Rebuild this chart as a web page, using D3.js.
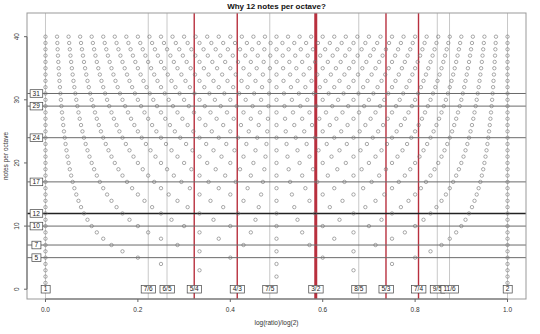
<!DOCTYPE html>
<html>
<head>
<meta charset="utf-8">
<script src="https://cdn.jsdelivr.net/npm/d3@7"></script>
<style>
  body { margin: 0; background: #fff; }
  text { font-family: "Liberation Sans", Arial, sans-serif; }
</style>
</head>
<body>
<div id="chart"></div>
<script>
const notesPerOctave = [1,2,3,4,5,6,7,8,9,10,11,12,13,14,15,16,17,18,19,20,
  21,22,23,24,25,26,27,28,29,30,31,32,33,34,35,36,37,38,39,40];
const intervalLabels = ["1","7/6","6/5","5/4","4/3","7/5","3/2","8/5","5/3","7/4","9/5","11/6","2"];
const intervalRatios = [1, 7/6, 6/5, 5/4, 4/3, 7/5, 3/2, 8/5, 5/3, 7/4, 9/5, 11/6, 2];
const redIntervals = ["5/4","4/3","3/2","5/3","7/4"];
const markedOctaves = [5, 7, 10, 12, 17, 24, 29, 31];
const xTicks = [0, 0.2, 0.4, 0.6, 0.8, 1.0];
const yTicks = [0, 10, 20, 30, 40];

const width = 540, height = 334;
const plotL = 27, plotR = 526, plotT = 13, plotB = 299;

const svg = d3.select("#chart").append("svg")
  .attr("width", width)
  .attr("height", height);

const x = d3.scaleLinear().domain([-0.04, 1.04]).range([plotL, plotR]);
const y = d3.scaleLinear().domain([-1.55, 43.75]).range([plotB, plotT]);

// grid of k/n points for each division of the octave
const points = [];
notesPerOctave.forEach(n => {
  for (let k = 0; k <= n; k++) points.push({x: k / n, n: n});
});

// vertical interval lines
const intervals = intervalLabels.map((l, i) => ({label: l, v: Math.log(intervalRatios[i]) / Math.log(2)}));
svg.append("g").selectAll("line")
  .data(intervals)
  .join("line")
    .attr("x1", d => x(d.v)).attr("x2", d => x(d.v))
    .attr("y1", plotT).attr("y2", plotB)
    .attr("stroke", d => redIntervals.includes(d.label) ? "#b8303e" : "#c8c8c8")
    .attr("stroke-width", d => d.label === "3/2" ? 3 : (redIntervals.includes(d.label) ? 1.4 : 1));

// horizontal lines for good divisions
svg.append("g").selectAll("line")
  .data(markedOctaves)
  .join("line")
    .attr("x1", plotL).attr("x2", plotR)
    .attr("y1", d => y(d)).attr("y2", d => y(d))
    .attr("stroke", d => d === 12 ? "#222" : "#6a6a6a")
    .attr("stroke-width", d => d === 12 ? 1.6 : 1);

// points
svg.append("g").selectAll("circle")
  .data(points)
  .join("circle")
    .attr("cx", d => x(d.x))
    .attr("cy", d => y(d.n))
    .attr("r", 1.7)
    .attr("fill", "none")
    .attr("stroke", "#707070")
    .attr("stroke-width", 0.6);

function labelBox(g, cx, cy, txt) {
  const t = g.append("text")
    .attr("x", cx).attr("y", cy)
    .attr("text-anchor", "middle")
    .attr("dy", "0.35em")
    .attr("font-size", 6.5)
    .attr("fill", "#222")
    .text(txt);
  const b = t.node().getBBox();
  g.insert("rect", "text")
    .attr("x", b.x - 2.5).attr("y", cy - 3.8)
    .attr("width", b.width + 5).attr("height", 7.6)
    .attr("fill", "#fff")
    .attr("stroke", "#444")
    .attr("stroke-width", 0.7);
}

intervals.forEach(d => {
  labelBox(svg.append("g"), x(d.v), y(0), d.label);
});
markedOctaves.forEach(d => {
  labelBox(svg.append("g"), x(-0.02), y(d), d);
});

// plot box
svg.append("rect")
  .attr("x", plotL).attr("y", plotT)
  .attr("width", plotR - plotL).attr("height", plotB - plotT)
  .attr("fill", "none")
  .attr("stroke", "#999")
  .attr("stroke-width", 1);

// x axis
const gx = svg.append("g").attr("transform", `translate(0,${plotB})`);
gx.append("line").attr("x1", x(0)).attr("x2", x(1)).attr("stroke", "#666");
gx.selectAll("line.tick").data(xTicks).join("line")
  .attr("class", "tick")
  .attr("x1", d => x(d)).attr("x2", d => x(d))
  .attr("y1", 0).attr("y2", 3)
  .attr("stroke", "#666");
gx.selectAll("text").data(xTicks).join("text")
  .attr("x", d => x(d)).attr("y", 13)
  .attr("text-anchor", "middle")
  .attr("font-size", 6.5)
  .attr("fill", "#333")
  .text(d => d.toFixed(1));

// y axis
const gy = svg.append("g").attr("transform", `translate(${plotL},0)`);
gy.append("line").attr("y1", y(0)).attr("y2", y(40)).attr("stroke", "#666");
gy.selectAll("line.tick").data(yTicks).join("line")
  .attr("class", "tick")
  .attr("y1", d => y(d)).attr("y2", d => y(d))
  .attr("x1", 0).attr("x2", -3)
  .attr("stroke", "#666");
gy.selectAll("text").data(yTicks).join("text")
  .attr("transform", d => `translate(-8,${y(d)}) rotate(-90)`)
  .attr("text-anchor", "middle")
  .attr("font-size", 6.5)
  .attr("fill", "#333")
  .text(d => d);

// titles
svg.append("text")
  .attr("x", (plotL + plotR) / 2).attr("y", 9)
  .attr("text-anchor", "middle")
  .attr("font-size", 8)
  .attr("font-weight", "bold")
  .attr("fill", "#111")
  .text("Why 12 notes per octave?");

svg.append("text")
  .attr("x", (plotL + plotR) / 2).attr("y", 325)
  .attr("text-anchor", "middle")
  .attr("font-size", 6.5)
  .attr("fill", "#333")
  .text("log(ratio)/log(2)");

svg.append("text")
  .attr("transform", `translate(8,${(plotT + plotB) / 2}) rotate(-90)`)
  .attr("text-anchor", "middle")
  .attr("font-size", 6.5)
  .attr("fill", "#333")
  .text("notes per octave");
</script>
</body>
</html>
